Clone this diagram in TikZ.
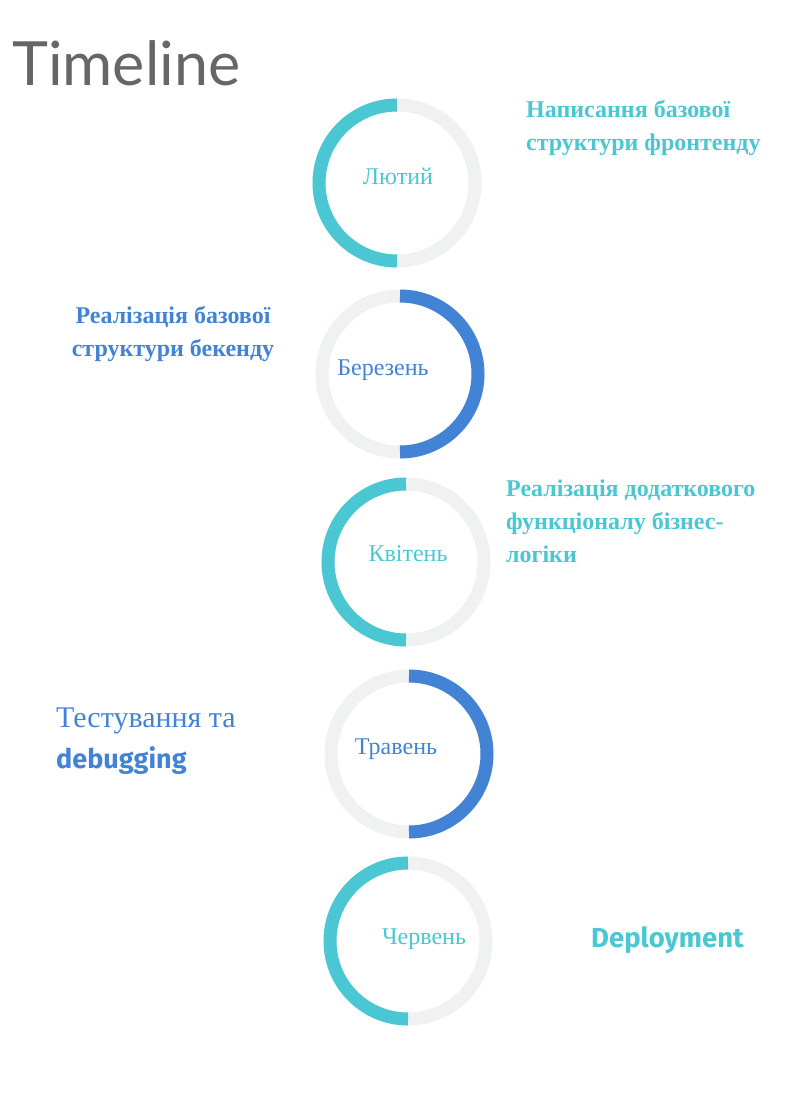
\documentclass[tikz,border=0pt]{standalone}
\usepackage{fontspec}
\setmainfont{Liberation Serif}
\newfontfamily\latofont{Lato}
\newfontfamily\handfont{Fira Sans}
\definecolor{tealc}{HTML}{4AC7D2}
\definecolor{bluec}{HTML}{4383D5}
\definecolor{ringgray}{HTML}{F0F1F1}
\definecolor{titlegray}{HTML}{666666}
\tikzset{
  ringbase/.style={draw=ringgray, line width=13pt},
  ringteal/.style={draw=tealc, line width=13pt},
  ringblue/.style={draw=bluec, line width=13pt},
  month/.style={inner sep=0pt, font=\fontsize{24}{28}\selectfont},
  boldtxt/.style={inner sep=0pt, font=\fontsize{24}{33}\selectfont\bfseries},
}
\begin{document}
\begin{tikzpicture}[x=1pt,y=-1pt]
\useasboundingbox[fill=white] (0,0) rectangle (800,1099);
\node[anchor=base west, inner sep=0pt, text=titlegray, font=\fontsize{61}{62}\selectfont\latofont] (title) at (12,86) {Timeline};

% rings
\coordinate (c1) at (397,183);
\coordinate (c2) at (400,374);
\coordinate (c3) at (406,562);
\coordinate (c4) at (409,754);
\coordinate (c5) at (408,941);

\foreach \c in {c1,c2,c3,c4,c5}{\draw[ringbase] (\c) circle[radius=78pt];}
\draw[ringteal] ([yshift=78pt]c1) arc[start angle=90, end angle=270, radius=78pt];
\draw[ringblue] ([yshift=78pt]c2) arc[start angle=90, end angle=-90, radius=78pt];
\draw[ringteal] ([yshift=78pt]c3) arc[start angle=90, end angle=270, radius=78pt];
\draw[ringblue] ([yshift=78pt]c4) arc[start angle=90, end angle=-90, radius=78pt];
\draw[ringteal] ([yshift=78pt]c5) arc[start angle=90, end angle=270, radius=78pt];

% month labels
\node[month, text=tealc] (m1) at (398,176) {Лютий};
\node[month, text=bluec] (m2) at (383,370) {Березень};
\node[month, text=tealc] (m3) at (408,554) {Квітень};
\node[month, text=bluec] (m4) at (396,749) {Травень};
\node[month, text=tealc] (m5) at (424,939) {Червень};

% descriptions (base anchor = last line's baseline)
\node[boldtxt, text=tealc, anchor=base west, align=left] (d1) at (526,151)
  {Написання базової\\структури фронтенду};
\node[boldtxt, text=bluec, anchor=base, align=center] (d2) at (173,356)
  {Реалізація базової\\структури бекенду};
\node[boldtxt, text=tealc, anchor=base west, align=left] (d3) at (506,562)
  {Реалізація додаткового\\функціоналу бізнес-\\логіки};
\node[inner sep=0pt, text=bluec, anchor=base west, align=left, font=\fontsize{30}{41}\selectfont] (d4) at (56,768)
  {Тестування та\\{\fontsize{27}{41}\selectfont\handfont\bfseries debugging}};
\node[inner sep=0pt, text=tealc, anchor=base west, font=\fontsize{27.5}{30}\selectfont\handfont\bfseries] (d5) at (591,947) {Deployment};
\end{tikzpicture}
\end{document}
